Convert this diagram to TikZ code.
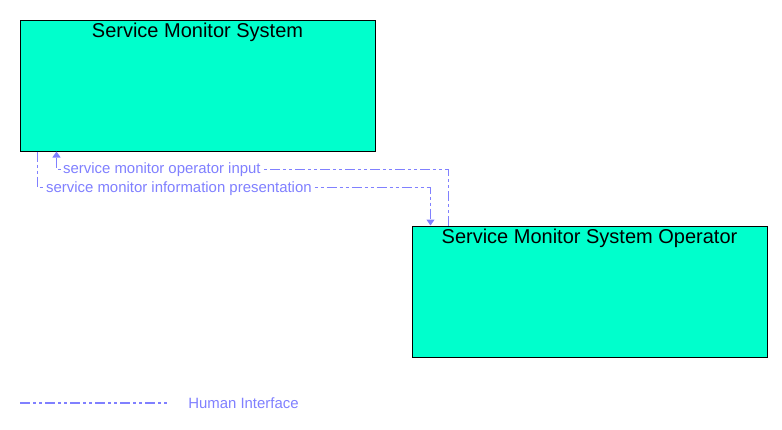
\documentclass[tikz,border=0pt]{standalone}
\usepackage{fontspec}
\setmainfont{Liberation Sans}
\usetikzlibrary{calc,arrows.meta}
\definecolor{boxfill}{RGB}{0,255,204}
\definecolor{hicol}{RGB}{128,128,255}
\tikzset{
  box/.style={draw=black,line width=0.75pt,fill=boxfill,inner sep=0pt,minimum width=266.25pt,minimum height=98.25pt},
  title/.style={anchor=base,inner sep=0pt,font=\fontsize{15}{18}\selectfont},
  hi/.style={draw=hicol,line width=0.8pt,dash pattern=on 7.5pt off 2.25pt on 2.25pt off 2.25pt on 2.25pt off 2.25pt},
  arr/.style={-{Triangle[width=6pt,length=4.5pt]}},
  flowlabel/.style={anchor=west,fill=white,inner xsep=1pt,inner ysep=0pt,text=hicol,font=\fontsize{11.2}{13}\selectfont}
}
\begin{document}
\begin{tikzpicture}[x=0.75pt,y=-0.75pt]
\useasboundingbox (0,0) rectangle (782,429);
\node[box] (box1) at (197.5,85.5) {};
\node[box] (box2) at (589.5,291.5) {};
\node[title] (t1) at ($(box1.north)+(0,17.7)$) {Service Monitor System};
\node[title] (t2) at ($(box2.north)+(0,17.7)$) {Service Monitor System Operator};
% service monitor operator input
\draw[hi,arr] ($(box2.north west)+(37,0)$) |- ($(box1.south west)+(37,18)$) -- ($(box1.south west)+(37,0)$);
\node[flowlabel] (l1) at ($(box1.south west)+(42,18.5)$) {service monitor operator input};
% service monitor information presentation
\draw[hi,arr] ($(box1.south west)+(18,0)$) |- ($(box2.north west)+(19,-38)$) -- ($(box2.north west)+(19,0)$);
\node[flowlabel] (l2) at ($(box1.south west)+(25,37.5)$) {service monitor information presentation};
% legend
\coordinate (lg1) at (20,403);
\coordinate (lg2) at (168,403);
\draw[hi] (lg1) -- (lg2);
\node[anchor=west,inner sep=0pt,text=hicol,font=\fontsize{11.2}{13}\selectfont] (lgt) at (188,403) {Human Interface};
\end{tikzpicture}
\end{document}
